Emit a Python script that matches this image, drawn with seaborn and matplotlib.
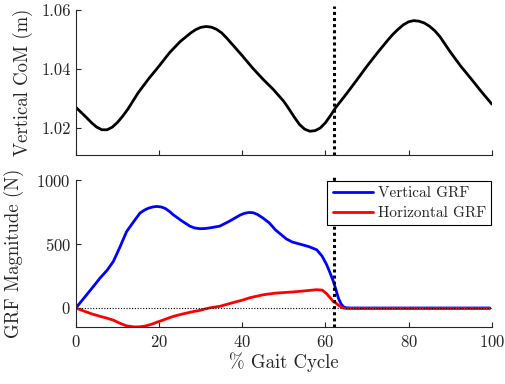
import numpy as np
import pandas as pd
import matplotlib
matplotlib.use("Agg")
import matplotlib.pyplot as plt
import seaborn as sns

# ---- data ----
com_x = [0, 1.25, 2.5, 3.75, 5, 6.25, 7.5, 8.75, 10, 11.25, 12.5, 15, 17.5, 20,
         22.5, 25, 27.5, 28.75, 30, 31.25, 32.5, 33.75, 35, 36.25, 37.5, 40,
         42.5, 45, 47.5, 50, 51.25, 52.5, 53.75, 55, 56.25, 57.5, 58.75, 60,
         61.25, 62.5, 65, 67.5, 70, 72.5, 75, 76.25, 77.5, 78.75, 80, 81.25,
         82.5, 83.75, 85, 86.25, 87.5, 90, 92.5, 95, 97.5, 100]
com_y = [1.0270, 1.0253, 1.0236, 1.0218, 1.0203, 1.0194, 1.0194, 1.0203, 1.0219,
         1.0240, 1.0264, 1.0320, 1.0367, 1.0410, 1.0455, 1.0492, 1.0521, 1.0533,
         1.0541, 1.0544, 1.0542, 1.0535, 1.0523, 1.0505, 1.0485, 1.0445, 1.0403,
         1.0365, 1.0330, 1.0290, 1.0264, 1.0237, 1.0212, 1.0196, 1.0189, 1.0191,
         1.0200, 1.0218, 1.0243, 1.0270, 1.0315, 1.0362, 1.0410, 1.0455, 1.0498,
         1.0518, 1.0535, 1.0550, 1.0560, 1.0564, 1.0562, 1.0556, 1.0545, 1.0530,
         1.0510, 1.0458, 1.0410, 1.0367, 1.0323, 1.0281]

grf_x = [0, 2, 4, 5.8, 7.5, 9, 10.5, 12.2, 14, 15.4, 16.5, 17.5, 18.5, 19.4,
         20.5, 21.5, 22.5, 23.4, 25.5, 27.4, 28.5, 29.8, 31, 32.5, 34.6, 37,
         39.5, 40.5, 41.6, 42.6, 43.6, 45, 46.5, 48, 50.6, 52, 53.8, 56, 57.9,
         59.2, 60.3, 61.1, 61.9, 62.5, 63.1, 63.7, 64.3, 65, 66, 70, 80, 90, 99.5]
vgrf = [0, 80, 160, 234, 295, 364, 470, 598, 680, 742, 766, 781, 790, 794,
        790, 778, 755, 729, 680, 640, 626, 620, 621, 628, 640, 680, 727, 740,
        747, 745, 732, 703, 665, 610, 540, 516, 500, 480, 455, 405, 338, 275,
        208, 145, 78, 35, 10, 2, 0, 0, 0, 0, 0]
hgrf = [0, -25, -48, -65, -80, -95, -118, -140, -148, -147, -142, -134, -124, -112,
        -100, -88, -76, -66, -48, -34, -26, -19, -8, 3, 13, 35, 57, 66,
        78, 86, 93, 103, 110, 116, 122, 125, 130, 137, 143, 140, 111, 80,
        50, 39, 22, 10, 0, -4, -4, -4, -4, -4, -4]

ticks_x = [0, 20, 40, 60, 80, 100]
event_x = 62

sns.set_style("ticks")
plt.rcParams.update({
    "font.family": ["cmr10", "DejaVu Serif"],
    "mathtext.fontset": "cm",
    "axes.formatter.use_mathtext": True,
    "font.size": 12,
    "axes.edgecolor": "#262626",
    "xtick.color": "#262626",
    "ytick.color": "#262626",
    "text.color": "#262626",
    "axes.labelcolor": "#262626",
    "xtick.direction": "in",
    "ytick.direction": "in",
    "xtick.major.size": 3.5,
    "ytick.major.size": 3.5,
    "xtick.major.pad": 5,
    "axes.linewidth": 0.8,
    "lines.solid_capstyle": "round",
    "lines.solid_joinstyle": "round",
})

fig = plt.figure(figsize=(5.06, 3.84), dpi=100)
ax1 = fig.add_axes([0.150, 0.596, 0.822, 0.378])
ax2 = fig.add_axes([0.150, 0.148, 0.822, 0.383])

df_com = pd.DataFrame({"x": com_x, "y": com_y})
sns.lineplot(data=df_com, x="x", y="y", ax=ax1, color="black", linewidth=2.0)
ax1.set_xlim(0, 100)
ax1.set_ylim(1.0108, 1.06)
ax1.set_yticks([1.02, 1.04, 1.06])
ax1.set_yticklabels(["1.02", "1.04", "1.06"])
ax1.set_xticks(ticks_x)
ax1.set_xticklabels([])
ax1.set_xlabel("")
ax1.set_ylabel("Vertical CoM (m)", fontsize=13.5)
ax1.axvline(event_x, ymin=0, ymax=1.03, color="black", linestyle=(0, (1, 1)),
            linewidth=2.2, clip_on=False)
sns.despine(ax=ax1)

df_grf = pd.DataFrame({
    "x": grf_x * 2,
    "y": vgrf + hgrf,
    "series": ["Vertical GRF"] * len(grf_x) + ["Horizontal GRF"] * len(grf_x),
})
sns.lineplot(data=df_grf, x="x", y="y", hue="series", ax=ax2,
             palette={"Vertical GRF": "#0000ff", "Horizontal GRF": "#ff0000"},
             linewidth=2.0)
ax2.axhline(0, color="black", linestyle=(0, (1, 1.5)), linewidth=0.8)
ax2.axvline(event_x, ymin=0, ymax=1.03, color="black", linestyle=(0, (1, 1)),
            linewidth=2.2, clip_on=False)
ax2.set_xlim(0, 100)
ax2.set_ylim(-150, 1000)
ax2.set_yticks([0, 500, 1000])
ax2.set_xticks(ticks_x)
ax2.set_xlabel("% Gait Cycle", fontsize=13.5)
ax2.set_ylabel("GRF Magnitude (N)", fontsize=13.5)
sns.despine(ax=ax2)
leg = ax2.legend(loc="upper right", frameon=True, fancybox=False, framealpha=1,
                 edgecolor="black", handlelength=2.65, handletextpad=0.3,
                 borderaxespad=0.05, fontsize=11, labelspacing=0.42,
                 borderpad=0.35)
leg.get_frame().set_linewidth(0.8)

ax1.yaxis.set_label_coords(-0.104, 0.5)
ax2.yaxis.set_label_coords(-0.125, 0.5)
ax2.xaxis.set_label_coords(0.5, -0.17)

fig.savefig("out.png", dpi=100)
